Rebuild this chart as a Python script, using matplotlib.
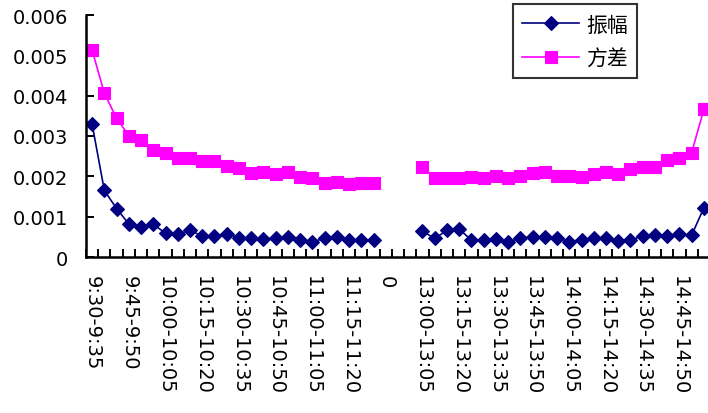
import numpy as np
import matplotlib
matplotlib.use("Agg")
import matplotlib.pyplot as plt
from matplotlib.ticker import FixedLocator, FuncFormatter

plt.rcParams['font.family'] = ['DejaVu Sans', 'Noto Sans CJK SC']

# 5-minute trading intervals: morning session, lunch-break gap, afternoon session
morning = ["9:30-9:35", "9:35-9:40", "9:40-9:45", "9:45-9:50", "9:50-9:55", "9:55-10:00",
           "10:00-10:05", "10:05-10:10", "10:10-10:15", "10:15-10:20", "10:20-10:25", "10:25-10:30",
           "10:30-10:35", "10:35-10:40", "10:40-10:45", "10:45-10:50", "10:50-10:55", "10:55-11:00",
           "11:00-11:05", "11:05-11:10", "11:10-11:15", "11:15-11:20", "11:20-11:25", "11:25-11:30"]
gap = ["0", "0", "0"]
afternoon = ["13:00-13:05", "13:05-13:10", "13:10-13:15", "13:15-13:20", "13:20-13:25", "13:25-13:30",
             "13:30-13:35", "13:35-13:40", "13:40-13:45", "13:45-13:50", "13:50-13:55", "13:55-14:00",
             "14:00-14:05", "14:05-14:10", "14:10-14:15", "14:15-14:20", "14:20-14:25", "14:25-14:30",
             "14:30-14:35", "14:35-14:40", "14:40-14:45", "14:45-14:50", "14:50-14:55", "14:55-15:00"]
categories = morning + gap + afternoon

# 振幅 (amplitude), units of 1e-3
amp_morning = [3.29, 1.65, 1.20, 0.82, 0.75, 0.81, 0.59, 0.56, 0.67, 0.51, 0.51, 0.58,
               0.47, 0.46, 0.44, 0.48, 0.50, 0.42, 0.38, 0.46, 0.50, 0.42, 0.42, 0.42]
amp_afternoon = [0.64, 0.46, 0.66, 0.70, 0.41, 0.43, 0.44, 0.38, 0.46, 0.50, 0.49, 0.47,
                 0.38, 0.43, 0.47, 0.46, 0.40, 0.42, 0.52, 0.55, 0.51, 0.56, 0.54, 1.22]

# 方差 (variance), units of 1e-3
var_morning = [5.13, 4.06, 3.44, 3.01, 2.90, 2.65, 2.57, 2.46, 2.46, 2.38, 2.38, 2.26,
               2.21, 2.09, 2.10, 2.05, 2.10, 1.99, 1.95, 1.84, 1.87, 1.80, 1.84, 1.84]
var_afternoon = [2.24, 1.95, 1.95, 1.95, 1.99, 1.95, 2.01, 1.95, 2.02, 2.09, 2.11, 2.01,
                 2.01, 1.99, 2.06, 2.11, 2.07, 2.18, 2.24, 2.24, 2.40, 2.46, 2.59, 3.66]

y_ticks = [0, 0.001, 0.002, 0.003, 0.004, 0.005, 0.006]

nan_gap = [np.nan] * len(gap)
amplitude = np.array(amp_morning + nan_gap + amp_afternoon) * 1e-3
variance = np.array(var_morning + nan_gap + var_afternoon) * 1e-3
x = np.arange(len(categories))

W, H = 708, 414
fig = plt.figure(figsize=(W / 100, H / 100), dpi=100)
ax = fig.add_axes([86 / W, (H - 258) / H, 624 / W, 242 / H])

ax.plot(x, amplitude, color="#000080", lw=1.2, marker="D", ms=7.2,
        mfc="#000080", mec="#000080", mew=0.8, label="振幅")
ax.plot(x, variance, color="#FF00FF", lw=1.2, marker="s", ms=8.4,
        mfc="#FF00FF", mec="#FF00FF", mew=0.8, label="方差")

ax.set_xlim(-0.5, len(categories) - 0.5)
ax.set_ylim(0, 0.006)

for side in ("top", "right"):
    ax.spines[side].set_visible(False)
for side in ("left", "bottom"):
    ax.spines[side].set_linewidth(1.8)
    ax.spines[side].set_color("black")

ax.yaxis.set_major_locator(FixedLocator(y_ticks))
ax.yaxis.set_major_formatter(FuncFormatter(lambda v, p: "0" if v == 0 else f"{v:.3f}"))
ax.tick_params(axis="y", direction="in", length=6, width=1.4, pad=13, labelsize=14)
for lbl in ax.get_yticklabels():
    lbl.set_y(lbl.get_position()[1])

# ticks between categories, labels on every third category
ax.set_xticks(np.arange(len(categories) + 1) - 0.5)
ax.set_xticklabels([])
ax.set_xticks(x[::3], minor=True)
ax.set_xticklabels(categories[::3], minor=True, rotation=-90, fontsize=14)
ax.tick_params(axis="x", which="major", direction="in", length=6, width=1.4)
ax.tick_params(axis="x", which="minor", length=0, pad=13)

leg = ax.legend(loc="upper left", bbox_to_anchor=(513 / W, 1 - 5 / H),
                bbox_transform=fig.transFigure, borderaxespad=0,
                fancybox=False, frameon=True, edgecolor="black",
                prop={"family": ["Noto Sans CJK SC"], "size": 15},
                handlelength=2.7, handletextpad=0.35, borderpad=0.45,
                labelspacing=0.55)
leg.get_frame().set_linewidth(1.5)

fig.savefig("out.png", dpi=100)
